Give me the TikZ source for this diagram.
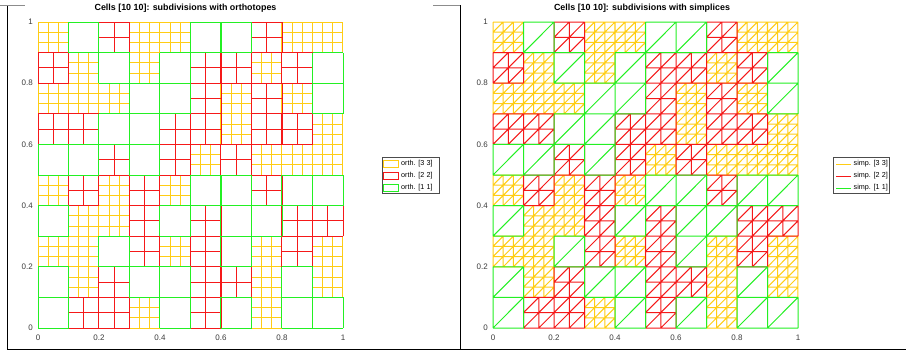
\documentclass[tikz,border=0pt]{standalone}
\usepackage{fontspec}
\setmainfont{Liberation Sans}
\definecolor{cthree}{RGB}{255,205,20}
\definecolor{ctwo}{RGB}{245,25,25}
\definecolor{cone}{RGB}{35,240,35}
\definecolor{ticktext}{RGB}{60,60,60}
\tikzset{
  c3/.style={draw=cthree,line width=1pt},
  c2/.style={draw=ctwo,line width=1pt},
  c1/.style={draw=cone,line width=1pt},
  ticklab/.style={font=\fontsize{8}{9}\selectfont,text=ticktext,inner sep=0pt},
  titlelab/.style={font=\fontsize{8.9}{10}\selectfont\bfseries,inner sep=0pt},
  leglab/.style={font=\fontsize{7.2}{8}\selectfont,inner sep=0pt,anchor=west},
  legbox/.style={draw=black!70,line width=0.6pt,fill=white},
  frameline/.style={draw=black,line width=0.8pt}
}
\def\levelrows{9/{3,1,2,3,3,1,1,2,3,3},8/{2,3,1,3,1,2,2,3,2,1},7/{3,3,3,1,1,2,3,2,3,1},6/{2,2,1,1,2,2,3,2,2,3},5/{1,1,2,1,2,3,2,3,3,3},4/{3,2,3,2,3,1,1,2,1,1},3/{1,3,3,2,1,2,1,1,2,2},2/{3,3,1,2,3,2,1,3,2,3},1/{1,3,2,1,1,2,2,3,1,3},0/{1,2,2,3,1,2,1,3,1,1}}
\newcommand\plotcells[1]{%
  \foreach \pass in {3,2,1}{%
    \gdef\cellpath{}%
    \foreach \j/\row in \levelrows{%
      \foreach \l [count=\ii from 0] in \row{%
        \ifnum\l=\pass\relax
          \pgfmathsetmacro\hh{0.1/\l}%
          \pgfmathtruncatemacro\mm{\l-1}%
          \pgfmathsetmacro\xo{\ii/10}%
          \pgfmathsetmacro\yo{\j/10}%
          \foreach \k in {0,...,\l}{%
            \pgfmathsetmacro\xk{\xo+\k*\hh}%
            \pgfmathsetmacro\yk{\yo+\k*\hh}%
            \xdef\cellpath{\cellpath (\xk,\yo) -- ++(0,0.1) (\xo,\yk) -- ++(0.1,0)}%
          }%
          \ifnum#1=1\relax
            \foreach \a in {0,...,\mm}{\foreach \b in {0,...,\mm}{%
              \pgfmathsetmacro\xa{\xo+\a*\hh}%
              \pgfmathsetmacro\yb{\yo+\b*\hh}%
              \xdef\cellpath{\cellpath (\xa,\yb) -- ++(\hh,\hh)}%
            }}%
          \fi
        \fi
      }%
    }%
    \draw[c\pass] \cellpath;
  }%
}
\newcommand\ticklabels{%
  \foreach \t/\s in {0/0,0.2/0.2,0.4/0.4,0.6/0.6,0.8/0.8,1/1}{%
    \node[ticklab,anchor=north] (xt\s) at (\t,0) [yshift=-7pt] {\s};
    \node[ticklab,anchor=east] (yt\s) at (0,\t) [xshift=-5pt] {\s};
  }%
}
\begin{document}
\begin{tikzpicture}[x=1pt,y=-1pt]
\useasboundingbox (0,0) rectangle (906,351);
\fill[white] (0,0) rectangle (906,351);
% frame
\draw[frameline] (7,5) -- (7,349) -- (906,349);
\draw[frameline] (460,5) -- (460,349);
\draw[draw=black!45,line width=0.8pt] (0,5) -- (25,5);
\draw[draw=black!45,line width=0.8pt] (433,5) -- (460,5);
% left plot
\begin{scope}[shift={(38,328)},x=305pt,y=306pt]
  \plotcells{0}
  \ticklabels
\end{scope}
\node[titlelab] (tl) at (185.5,8.5) {Cells [10 10]: subdivisions with orthotopes};
% left legend
\node[legbox,minimum width=57pt,minimum height=36pt,anchor=north west] (lgl) at (382,157) {};
\draw[c3] (383.5,160) rectangle (398,167);
\draw[c2] (383.5,172) rectangle (398,179);
\draw[c1] (383.5,184) rectangle (398,191);
\node[leglab] (ll3) at (401,163.5) {orth. [3\,\,3]};
\node[leglab] (ll2) at (401,175.5) {orth. [2\,\,2]};
\node[leglab] (ll1) at (401,187.5) {orth. [1\,\,1]};
% right plot
\begin{scope}[shift={(493,328)},x=305pt,y=306pt]
  \plotcells{1}
  \ticklabels
\end{scope}
\node[titlelab] (tr) at (642,8.5) {Cells [10 10]: subdivisions with simplices};
% right legend
\node[legbox,minimum width=56pt,minimum height=36pt,anchor=north west] (lgr) at (833,157) {};
\coordinate (r3a) at (836,164); \coordinate (r3b) at (851,164);
\coordinate (r2a) at (836,176); \coordinate (r2b) at (851,176);
\coordinate (r1a) at (836,188); \coordinate (r1b) at (851,188);
\draw[c3] (r3a) -- (r3b);
\draw[c2] (r2a) -- (r2b);
\draw[c1] (r1a) -- (r1b);
\node[leglab] (rl3) at (853.5,164) {simp. [3\,\,3]};
\node[leglab] (rl2) at (853.5,176) {simp. [2\,\,2]};
\node[leglab] (rl1) at (853.5,188) {simp. [1\,\,1]};
\end{tikzpicture}
\end{document}
